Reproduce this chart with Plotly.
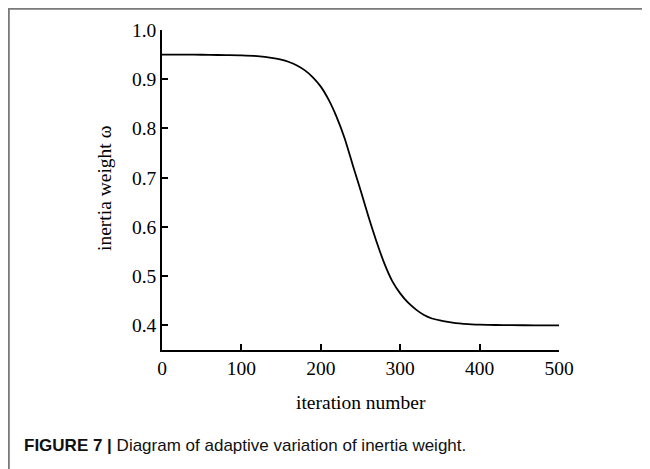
import plotly.graph_objects as go

# Data
iterations = [0, 20, 40, 60, 80, 100, 120, 140, 150, 160, 170, 180, 190, 200, 210, 220,
              230, 240, 250, 260, 270, 280, 290, 300, 310, 320, 330, 340, 350, 360,
              370, 380, 390, 400, 420, 440, 470, 500]
inertia_weight = [0.950, 0.950, 0.950, 0.9495, 0.949, 0.9485, 0.947, 0.943, 0.940, 0.935,
                  0.928, 0.918, 0.904, 0.885, 0.858, 0.823, 0.780, 0.727, 0.675, 0.621,
                  0.571, 0.526, 0.490, 0.465, 0.446, 0.432, 0.421, 0.414, 0.410, 0.407,
                  0.4045, 0.403, 0.402, 0.4015, 0.4008, 0.4004, 0.4002, 0.400]

x_ticks = [0, 100, 200, 300, 400, 500]
y_ticks = [0.4, 0.5, 0.6, 0.7, 0.8, 0.9, 1.0]
y_tick_labels = ["0.4", "0.5", "0.6", "0.7", "0.8", "0.9", "1.0"]

x_title = "iteration number"
y_title = "inertia weight ω"
caption_bold = "FIGURE 7 |"
caption_text = " Diagram of adaptive variation of inertia weight."

# the page adds an 8px body margin, so figure coords = page coords - 8
OFF = 8
W, H = 650 - OFF, 469 - OFF
L, T = 162 - OFF, 30 - OFF
pw, ph = 397, 320
R = W - L - pw
B = H - T - ph

def px_to_paper_x(px):  # px given in page coordinates
    return (px - OFF - L) / pw

def py_to_paper_y(py):
    return (T + ph - (py - OFF)) / ph

serif = "Liberation Serif, Times New Roman, serif"
sans = "Liberation Sans, Arial, sans-serif"

fig = go.Figure()
fig.add_trace(go.Scatter(
    x=iterations, y=inertia_weight, mode="lines",
    line=dict(color="black", width=1.8, shape="spline", smoothing=0.6),
    showlegend=False, hoverinfo="skip"))

axis_common = dict(showline=True, linecolor="black", linewidth=1.5, ticks="inside",
                   ticklen=6, tickwidth=1.5, tickcolor="black", showgrid=False,
                   zeroline=False, mirror=False,
                   tickfont=dict(family=serif, size=19.5, color="black"))

fig.update_xaxes(range=[0, 500], tickvals=x_ticks, **axis_common)
fig.update_yaxes(range=[0.35, 1.0], tickvals=y_ticks, ticktext=y_tick_labels, **axis_common)

fig.update_layout(
    width=W, height=H,
    margin=dict(l=L, r=R, t=T, b=B),
    paper_bgcolor="white", plot_bgcolor="white",
    shapes=[dict(type="rect", xref="paper", yref="paper",
                 x0=px_to_paper_x(OFF + 0.9), x1=px_to_paper_x(700),
                 y0=py_to_paper_y(520), y1=py_to_paper_y(OFF + 0.9),
                 line=dict(color="#7a7a7a", width=1.8), fillcolor="rgba(0,0,0,0)",
                 layer="below")],
    annotations=[
        dict(text=x_title, xref="paper", yref="paper",
             x=px_to_paper_x(361), y=py_to_paper_y(402),
             xanchor="center", yanchor="middle", showarrow=False,
             font=dict(family=serif, size=19.5, color="black")),
        dict(text=y_title, xref="paper", yref="paper",
             x=px_to_paper_x(104), y=py_to_paper_y(188),
             xanchor="center", yanchor="middle", showarrow=False, textangle=-90,
             font=dict(family=serif, size=19.5, color="black")),
        dict(text="<b>" + caption_bold + "</b>" + caption_text, xref="paper", yref="paper",
             x=px_to_paper_x(22), y=py_to_paper_y(445),
             xanchor="left", yanchor="middle", showarrow=False,
             font=dict(family=sans, size=17, color="#111111")),
    ],
)

fig.write_html("out.html")
